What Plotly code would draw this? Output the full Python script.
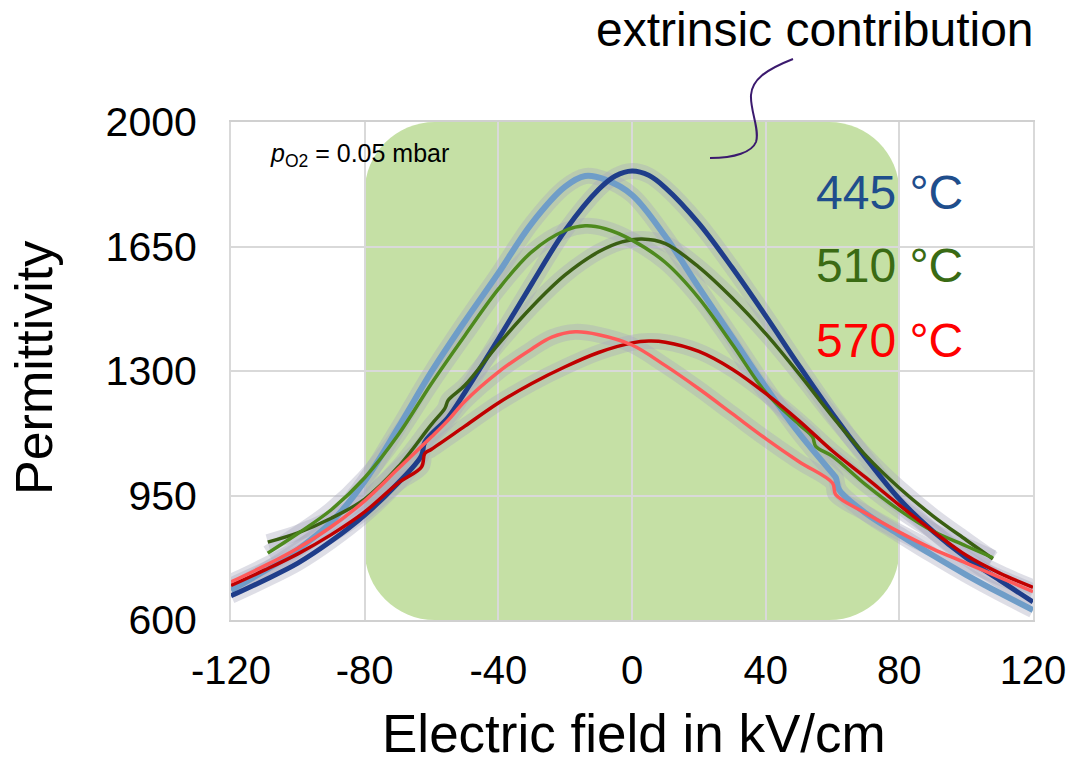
import plotly.graph_objects as go

# ---------------- data ----------------
# 445 °C, sweep 1 (dark blue)
x_445a = [-120, -110, -100, -90, -80, -70, -63, -62, -55, -50, -40, -30, -20, -10, -5, 0, 5,
          10, 20, 30, 40, 50, 60, 70, 80, 90, 100, 110, 120]
y_445a = [668, 712, 760, 822, 895, 985, 1062, 1100, 1170, 1240, 1390, 1545, 1695, 1810, 1848, 1862, 1850,
          1815, 1715, 1590, 1455, 1315, 1180, 1055, 940, 850, 775, 712, 651]
# 445 °C, sweep 2 (light blue)
x_445b = [-120, -110, -100, -90, -80, -70, -60, -50, -40, -30, -20, -14, -8, 0,
          10, 20, 30, 40, 50, 60, 61, 62, 70, 80, 90, 100, 110, 120]
y_445b = [684, 738, 798, 875, 990, 1140, 1298, 1440, 1575, 1715, 1818, 1848, 1838, 1795,
          1678, 1535, 1395, 1255, 1125, 1012, 1000, 966, 900, 840, 782, 727, 676, 628]
# 510 °C, sweep 1 (dark green)
x_510a = [-109, -100, -90, -80, -70, -60, -56, -55, -50, -40, -30, -20, -10, -3, 3,
          10, 20, 30, 40, 50, 60, 70, 80, 90, 100, 108]
y_510a = [819, 845, 886, 940, 1030, 1150, 1195, 1218, 1260, 1375, 1480, 1570, 1635, 1663, 1671,
          1658, 1592, 1505, 1405, 1292, 1172, 1062, 971, 893, 825, 772]
# 510 °C, sweep 2 (light green)
x_510b = [-109, -100, -90, -80, -70, -60, -50, -40, -30, -20, -14, -8, 0,
          10, 20, 30, 40, 50, 54, 55, 60, 70, 80, 90, 100, 108]
y_510b = [788, 843, 910, 1000, 1120, 1265, 1400, 1530, 1635, 1695, 1708, 1700, 1668,
          1605, 1505, 1375, 1240, 1150, 1115, 1088, 1060, 980, 909, 850, 808, 775]
# 570 °C, sweep 1 (dark red)
x_570a = [-120, -110, -100, -90, -80, -70, -63, -62, -60, -50, -40, -30, -20, -10, 0, 5,
          10, 20, 30, 40, 50, 60, 70, 80, 90, 100, 110, 120]
y_570a = [697, 740, 786, 840, 904, 985, 1030, 1068, 1080, 1145, 1210, 1265, 1312, 1352, 1379, 1384,
          1381, 1355, 1305, 1237, 1160, 1075, 1000, 923, 850, 782, 732, 692]
# 570 °C, sweep 2 (light red)
x_570b = [-120, -110, -100, -90, -80, -70, -60, -55, -50, -40, -30, -24, -17, -10, 0,
          10, 20, 30, 40, 50, 60, 61, 70, 80, 90, 100, 110, 120]
y_570b = [707, 752, 802, 862, 935, 1025, 1115, 1162, 1215, 1297, 1362, 1395, 1410, 1402, 1373,
          1315, 1250, 1180, 1110, 1045, 985, 952, 900, 847, 800, 760, 720, 680]

x_ticks = [-120, -80, -40, 0, 40, 80, 120]
y_ticks = [600, 950, 1300, 1650, 2000]
temp_labels = ["445 °C", "510 °C", "570 °C"]

# ---------------- figure ----------------
W, H = 1069, 762
ML, MR, MT, MB = 231, 36, 122, 142
PW, PH = W - ML - MR, H - MT - MB


def px(xp):
    return (xp - ML) / PW


def py(yp):
    return (H - MB - yp) / PH


series = [
    (x_445b, y_445b, "#6F9DC8", 6),
    (x_445a, y_445a, "#1F3D8A", 5),
    (x_510a, y_510a, "#3A5F12", 3.5),
    (x_510b, y_510b, "#4E8A1E", 3.5),
    (x_570a, y_570a, "#C00000", 3.5),
    (x_570b, y_570b, "#FF5A5A", 3.5),
]

fig = go.Figure()
# error "haze" under each curve
for xs, ys, col, w in series:
    fig.add_trace(go.Scatter(x=xs, y=ys, mode="lines",
                             line=dict(color="rgba(168,168,190,0.38)", width=16,
                                       shape="spline", smoothing=1.0),
                             hoverinfo="skip", showlegend=False))
for xs, ys, col, w in series:
    fig.add_trace(go.Scatter(x=xs, y=ys, mode="lines",
                             line=dict(color=col, width=w, shape="spline", smoothing=1.0),
                             showlegend=False))

# green rounded region (extrinsic contribution)
rx, ry = 21, 197
k = 0.552
path = (f"M {-80+rx},600 L {80-rx},600 "
        f"C {80-rx+rx*k},600 80,{600+ry-ry*k} 80,{600+ry} "
        f"L 80,{2000-ry} "
        f"C 80,{2000-ry+ry*k} {80-rx+rx*k},2000 {80-rx},2000 "
        f"L {-80+rx},2000 "
        f"C {-80+rx-rx*k},2000 -80,{2000-ry+ry*k} -80,{2000-ry} "
        f"L -80,{600+ry} "
        f"C -80,{600+ry-ry*k} {-80+rx-rx*k},600 {-80+rx},600 Z")
fig.add_shape(type="path", path=path, xref="x", yref="y",
              fillcolor="#C5E0A5", line=dict(width=0), layer="below")

# purple pointer line
pts = [(793, 59), (765, 70), (752, 80), (751, 95), (750, 110), (760, 130), (756, 142),
       (752, 152), (735, 158), (710, 158)]
p = [(px(a), py(b)) for a, b in pts]
ppath = (f"M {p[0][0]},{p[0][1]} C {p[1][0]},{p[1][1]} {p[2][0]},{p[2][1]} {p[3][0]},{p[3][1]} "
         f"C {p[4][0]},{p[4][1]} {p[5][0]},{p[5][1]} {p[6][0]},{p[6][1]} "
         f"C {p[7][0]},{p[7][1]} {p[8][0]},{p[8][1]} {p[9][0]},{p[9][1]}")
fig.add_shape(type="path", path=ppath, xref="paper", yref="paper",
              line=dict(color="#3B1A6E", width=2))

ann_font = "Liberation Sans, Arial, sans-serif"
fig.add_annotation(x=px(815), y=py(30), xref="paper", yref="paper", text="extrinsic contribution",
                   showarrow=False, xanchor="center", yanchor="middle",
                   font=dict(family=ann_font, size=48, color="#000"))
fig.add_annotation(x=px(268), y=py(155), xref="paper", yref="paper",
                   text="<i>p</i><sub>O2</sub> = 0.05 mbar",
                   showarrow=False, xanchor="left", yanchor="middle",
                   font=dict(family=ann_font, size=25, color="#000"))
for lab, ycen, col in zip(temp_labels, [192, 265, 340], ["#1F4E8C", "#3A6B14", "#FF0000"]):
    fig.add_annotation(x=px(814), y=py(ycen), xref="paper", yref="paper", text=lab,
                       showarrow=False, xanchor="left", yanchor="middle",
                       font=dict(family=ann_font, size=48, color=col))
fig.add_annotation(x=px(34), y=py(368), xref="paper", yref="paper", text="Permittivity",
                   textangle=-90, showarrow=False, xanchor="center", yanchor="middle",
                   font=dict(family=ann_font, size=52, color="#000"))
fig.add_annotation(x=px(634), y=py(733), xref="paper", yref="paper", text="Electric field in kV/cm",
                   showarrow=False, xanchor="center", yanchor="middle",
                   font=dict(family=ann_font, size=53, color="#000"))

fig.update_layout(
    width=W, height=H,
    margin=dict(l=ML, r=MR, t=MT, b=MB, pad=0),
    paper_bgcolor="white", plot_bgcolor="white",
    showlegend=False,
    xaxis=dict(range=[-120, 120], tickvals=x_ticks, ticktext=[str(v) for v in x_ticks],
               showgrid=True, gridcolor="#D9D9D9", gridwidth=2, zeroline=False,
               showline=True, linecolor="#D0D0D0", linewidth=2, mirror=True,
               ticks="", ticklabelstandoff=14, ticklabeloverflow="allow", automargin=False,
               tickfont=dict(family="Liberation Sans, Arial, sans-serif", size=40, color="#000")),
    yaxis=dict(range=[600, 2000], tickvals=y_ticks, ticktext=[str(v) for v in y_ticks],
               showgrid=True, gridcolor="#D9D9D9", gridwidth=2, zeroline=False,
               showline=True, linecolor="#D9D9D9", linewidth=2, mirror=True,
               ticks="", ticklabelstandoff=24, automargin=False,
               tickfont=dict(family="Liberation Sans, Arial, sans-serif", size=41, color="#000")),
)

fig.write_html("out.html")
